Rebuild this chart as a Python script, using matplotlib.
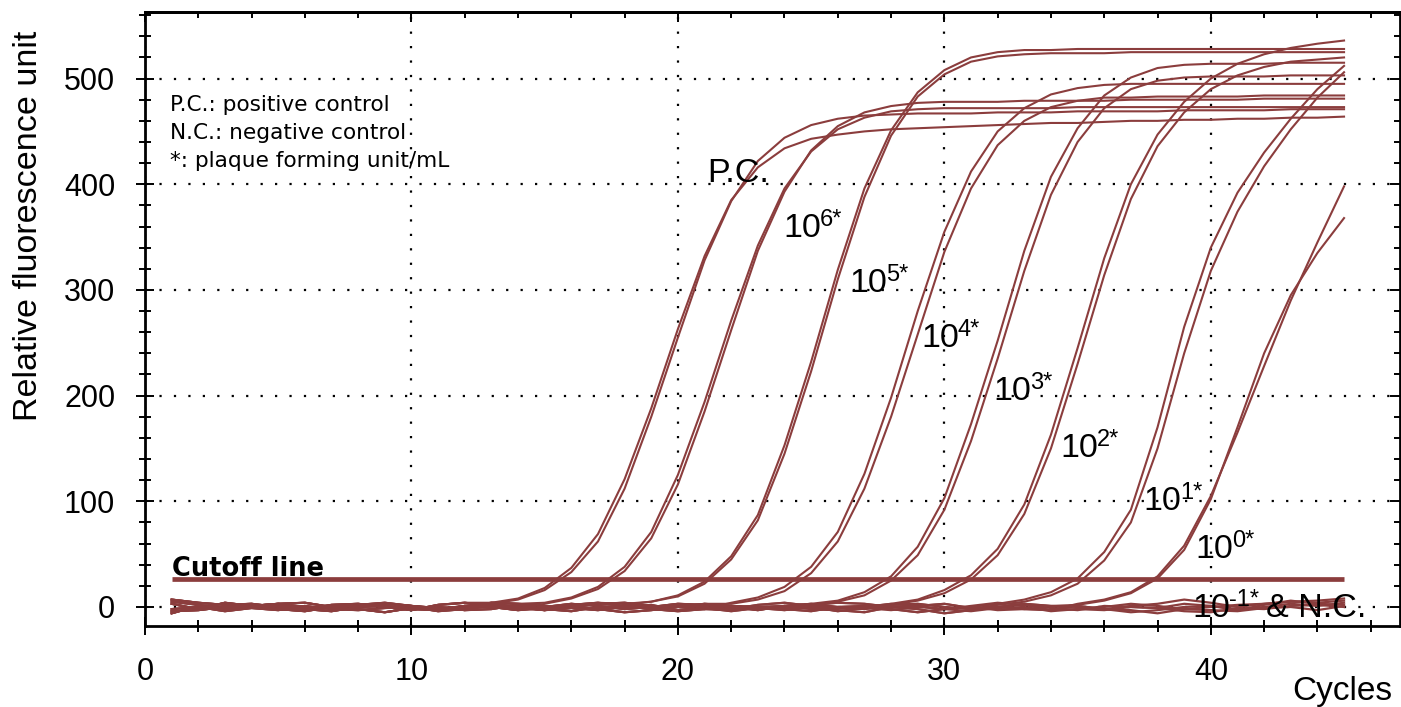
import matplotlib
matplotlib.use("Agg")
import matplotlib.pyplot as plt
from matplotlib.ticker import MultipleLocator, NullFormatter

plt.rcParams['font.family'] = ['Liberation Sans', 'DejaVu Sans']

# ---- data ----
cycles = list(range(1, 46))
cutoff = 26.5

# baseline noise traces (10^-1 and N.C., also used before each curve rises)
noise_a = [7, 4, 2, 3, 0, -2, 2, 3, 0, -3, 2, 4, 1, -2, 0, 3, 1, -2, 0, 3, 2, 0, -3, 1, 3,
           0, -2, 2, 3, 0, -2, 0, 2, -3, -2, 0, 3, 1, -2, 0, 2, 3, 5, 6, 8]
noise_b = [-4, -3, 0, 2, -2, -4, 0, -2, -5, -1, 0, -3, -2, 2, -2, -4, 0, 1, -2, -4, -2, 1, 0, -2, -4,
           0, 1, -2, -5, -2, 0, -3, -2, 0, 1, -2, -5, -3, 0, 1, -2, 0, 3, 1, 4]
noise_c = [3, -2, 4, 1, 3, 4, 0, 2, 3, 1, -1, 0, 4, 3, 1, 0, 3, 4, 1, 0, 3, 1, -2, 0, 2,
           4, 3, 0, 1, 3, -1, 0, 3, 1, 0, -2, 1, 3, 7, 4, 0, 3, 5, 4, 6]
noise_d = [-6, 1, -3, 0, 1, -2, -4, 0, 1, -2, -3, 1, 0, -3, -1, 1, -2, -5, -3, 0, -2, -3, 0, 1, -2,
           -3, -5, 0, -2, -6, -3, 0, -2, -3, 1, -2, -3, -6, -2, -3, -4, -1, 0, -3, 1]
noise_e = [5, 2, -1, 1, 3, 0, -1, 2, 4, 1, -2, 1, 3, 0, -3, 2, 4, 1, -1, 2, 0, -2, 2, 4, 1,
           -1, 0, 3, 1, -2, 1, 4, 2, -1, -3, 1, 0, -1, 3, 1, -3, 2, 6, 3, 2]
noise_f = [-2, 0, -4, -1, -3, 1, -2, -3, -1, 0, -4, -2, 1, -1, -3, -1, -3, 0, 2, -3, -1, -4, -1, -3, 0,
           -4, -1, -3, 0, -2, -4, -1, 0, -4, -2, -3, 0, -1, -4, -5, -1, -2, 1, 2, 0]

# rising part of each amplification curve (ends at cycle 45)
pc_a = [4, 8, 18, 37, 69, 121, 188, 263, 332, 385, 416, 434, 443, 447, 450, 452,
        453, 454, 455, 456, 457, 458, 458, 459, 460, 460, 461, 461, 462, 462, 463, 463, 464]
pc_b = [3, 7, 16, 33, 62, 112, 180, 255, 328, 384, 422, 444, 456, 462, 465, 466,
        467, 467, 467, 468, 468, 468, 469, 469, 469, 469, 470, 470, 470, 470, 471, 471, 471]
e6_a = [4, 9, 19, 38, 71, 125, 194, 271, 342, 396, 431, 452, 463, 469, 471, 472,
        472, 472, 472, 472, 473, 473, 473, 473, 473, 473, 473, 473, 473, 473, 473]
e6_b = [3, 8, 17, 34, 65, 116, 185, 262, 337, 393, 432, 455, 468, 474, 477, 478,
        478, 478, 479, 479, 479, 479, 480, 480, 480, 480, 480, 481, 481, 481, 481]
e5_a = [3, 5, 11, 24, 48, 87, 153, 232, 319, 396, 451, 487, 508, 520, 525, 527,
        527, 528, 528, 528, 528, 528, 528, 528, 528, 528, 528, 528]
e5_b = [2, 5, 10, 22, 45, 82, 145, 223, 310, 388, 446, 483, 504, 516, 521, 523,
        524, 524, 524, 525, 525, 525, 525, 525, 525, 525, 525, 525]
e4_a = [4, 9, 19, 38, 71, 126, 198, 280, 355, 412, 450, 472, 485, 491, 494,
        495, 495, 495, 495, 495, 495, 495, 495, 495]
e4_b = [3, 7, 15, 32, 62, 112, 180, 258, 336, 396, 437, 460, 473, 479, 482,
        482, 483, 483, 483, 483, 484, 484, 484, 484]
e3_a = [3, 6, 14, 29, 57, 103, 173, 252, 337, 407, 453, 484, 501, 510, 513,
        514, 514, 514, 515, 515, 515]
e3_b = [2, 5, 11, 25, 49, 92, 157, 235, 318, 390, 440, 472, 490, 498, 501,
        502, 502, 502, 503, 503, 503]
e2_a = [3, 7, 16, 30, 55, 97, 163, 245, 330, 400, 447, 478, 500, 514, 523, 529, 533, 536]
e2_b = [2, 6, 13, 26, 49, 88, 150, 230, 314, 386, 436, 468, 490, 503, 511, 516, 518, 520]
e1_a = [3, 7, 14, 27, 52, 92, 170, 265, 340, 392, 430, 462, 490, 512]
e1_b = [2, 5, 11, 22, 44, 80, 150, 240, 318, 374, 417, 452, 482, 506]
e0_a = [3, 7, 14, 29, 58, 105, 165, 228, 290, 345, 398]
e0_b = [2, 6, 13, 27, 54, 102, 170, 240, 295, 335, 368]

# curve labels: base text, superscript text, trailing text
label_base = ['P.C.', '10', '10', '10', '10', '10', '10', '10', '10']
label_sup = ['', '6*', '5*', '4*', '3*', '2*', '1*', '0*', '-1*']
label_tail = ['', '', '', '', '', '', '', '', '& N.C.']
note_lines = ['P.C.: positive control', 'N.C.: negative control', '*: plaque forming unit/mL']

line_color = '#8b3d3d'

fig = plt.figure(figsize=(14.01, 7.07), dpi=100)
ax = fig.add_axes([145 / 1401, 1 - 626 / 707, (1400 - 145) / 1401, (626 - 12) / 707])

rising = [(noise_a, pc_a), (noise_b, pc_b), (noise_c, e6_a), (noise_d, e6_b),
          (noise_e, e5_a), (noise_f, e5_b), (noise_d, e4_a), (noise_c, e4_b),
          (noise_a, e3_a), (noise_b, e3_b), (noise_e, e2_a), (noise_f, e2_b),
          (noise_b, e1_a), (noise_a, e1_b), (noise_d, e0_a), (noise_c, e0_b)]
for base, rise in rising:
    y = base[:len(cycles) - len(rise)] + rise
    ax.plot(cycles, y, color=line_color, lw=1.5, zorder=3)

for base in (noise_a, noise_b, noise_c, noise_d, noise_e, noise_f):
    ax.plot(cycles, base, color=line_color, lw=1.6, zorder=3)

ax.plot([cycles[0], cycles[-1]], [cutoff, cutoff], color=line_color, lw=3.4, zorder=3,
        solid_capstyle='butt')

ax.set_xlim(0, 47.1)
ax.set_ylim(-18, 563)
ax.xaxis.set_major_locator(MultipleLocator(10))
ax.xaxis.set_minor_locator(MultipleLocator(2))
ax.yaxis.set_major_locator(MultipleLocator(100))
ax.yaxis.set_minor_locator(MultipleLocator(20))
ax.grid(which='major', color='black', linestyle=(0, (1, 5.5)), linewidth=1.6, zorder=1)
ax.tick_params(which='major', direction='inout', length=13, width=1.4, labelsize=22)
ax.tick_params(which='minor', direction='inout', length=8, width=1.4)
ax.tick_params(axis='y', which='major', pad=15)
ax.tick_params(axis='x', which='major', pad=16)
ax.tick_params(top=False, right=False)
for sp in ax.spines.values():
    sp.set_linewidth(2)

secx = ax.secondary_xaxis('top')
secx.xaxis.set_major_locator(MultipleLocator(10))
secx.xaxis.set_minor_locator(MultipleLocator(2))
secx.xaxis.set_major_formatter(NullFormatter())
secx.tick_params(which='major', direction='in', length=7, width=1.4)
secx.tick_params(which='minor', direction='in', length=4, width=1.4)
secx.spines['top'].set_linewidth(2)

secy = ax.secondary_yaxis('right')
secy.yaxis.set_major_locator(MultipleLocator(100))
secy.yaxis.set_minor_locator(MultipleLocator(20))
secy.yaxis.set_major_formatter(NullFormatter())
secy.tick_params(which='major', direction='in', length=7, width=1.4)
secy.tick_params(which='minor', direction='in', length=4, width=1.4)

# curve labels
label_x = [21.10, 23.95, 26.43, 29.12, 31.83, 34.35, 37.46, 39.41, 39.29]
label_y = [402.5, 350.4, 298.3, 246.2, 196.0, 142.0, 91.9, 46.4, -9.5]
for base, sup, tail, lx, ly in zip(label_base, label_sup, label_tail, label_x, label_y):
    ax.text(lx, ly, base, fontsize=24.5, ha='left', va='baseline', zorder=4)
    if sup:
        ax.annotate(sup, xy=(lx, ly), xytext=(26.5, 8), textcoords='offset points',
                    fontsize=17, ha='left', va='baseline', zorder=4)
    if tail:
        ax.annotate(tail, xy=(lx, ly), xytext=(53, 0), textcoords='offset points',
                    fontsize=24.5, ha='left', va='baseline', zorder=4)

ax.text(1.0, 29, 'Cutoff line', fontsize=18.5, fontweight='bold', family='DejaVu Sans',
        ha='left', va='baseline', zorder=4)

for i, line in enumerate(note_lines):
    ax.text(0.94, 469.7 - 26.5 * i, line, fontsize=15.6, family='DejaVu Sans',
            ha='left', va='baseline', zorder=4)

fig.text(29 / 1401, 1 - 226 / 707, 'Relative fluorescence unit', rotation=90,
         fontsize=24.5, ha='center', va='center')
fig.text(1392 / 1401, 1 - 700 / 707, 'Cycles', fontsize=24, ha='right', va='baseline')

fig.savefig('out.png', dpi=100)
